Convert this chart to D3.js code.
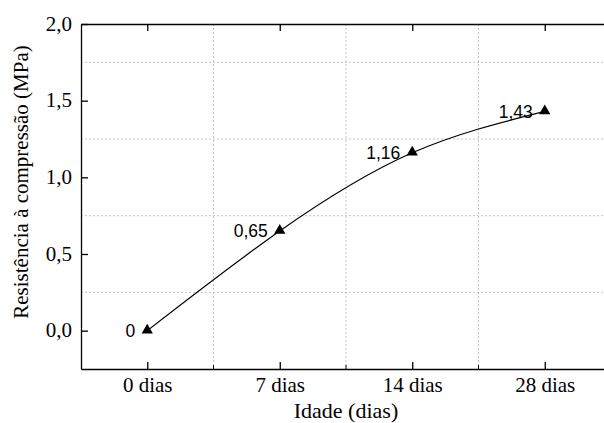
<!DOCTYPE html>
<html>
<head>
<meta charset="utf-8">
<script src="https://cdn.jsdelivr.net/npm/d3@7"></script>
<style>
  body { margin: 0; background: #fff; }
  svg { display: block; }
</style>
</head>
<body>
<div id="chart"></div>
<script>
// data
var categories = ["0 dias", "7 dias", "14 dias", "28 dias"];
var values = [0, 0.65, 1.16, 1.43];
var valueLabels = ["0", "0,65", "1,16", "1,43"];
var yTicks = [0, 0.5, 1.0, 1.5, 2.0];
var yGrid = [0.25, 0.75, 1.25, 1.75];
var xTitle = "Idade (dias)";
var yTitle = "Resistência à compressão (MPa)";

var width = 604, height = 423;
var plotLeft = 81, plotRight = 611, plotTop = 24, plotBottom = 369;
var serif = "'Liberation Serif', 'Times New Roman', serif";
var sans = "'Liberation Sans', Arial, sans-serif";

var svg = d3.select("#chart")
  .append("svg")
    .attr("width", width)
    .attr("height", height);

var x = d3.scalePoint()
  .domain(categories)
  .range([plotLeft, plotRight])
  .padding(0.5);

var y = d3.scaleLinear()
  .domain([-0.25, 2.0])
  .range([plotBottom, plotTop]);

var fmt = function(d) { return d3.format(".1f")(d).replace(".", ","); };

// midpoints between categories for minor ticks / vertical grid
var mids = categories.slice(1).map(function(c) { return x(c) - x.step() / 2; });

// grid lines (dotted)
var grid = svg.append("g").attr("class", "grid");
grid.selectAll("line.h")
  .data(yGrid)
  .enter()
  .append("line")
    .attr("class", "h")
    .attr("x1", plotLeft).attr("x2", plotRight)
    .attr("y1", function(d) { return y(d); })
    .attr("y2", function(d) { return y(d); });
grid.selectAll("line.v")
  .data(mids)
  .enter()
  .append("line")
    .attr("class", "v")
    .attr("y1", plotTop).attr("y2", plotBottom)
    .attr("x1", function(d) { return d; })
    .attr("x2", function(d) { return d; });
grid.selectAll("line")
  .attr("stroke", "#c4c4c4")
  .attr("stroke-width", 1)
  .attr("stroke-dasharray", "2,2");

// axes with inward ticks
var xBottom = d3.axisBottom(x).tickSize(-7).tickPadding(17).tickSizeOuter(0);
var xTop = d3.axisTop(x).tickSize(-7).tickFormat("").tickSizeOuter(0);
var yLeft = d3.axisLeft(y).tickValues(yTicks).tickSize(-7).tickPadding(9).tickFormat(fmt).tickSizeOuter(0);
var yRight = d3.axisRight(y).tickValues(yTicks).tickSize(-7).tickFormat("").tickSizeOuter(0);

var gBottom = svg.append("g").attr("transform", "translate(0," + plotBottom + ")").call(xBottom);
svg.append("g").attr("transform", "translate(0," + plotTop + ")").call(xTop);
var gLeft = svg.append("g").attr("transform", "translate(" + plotLeft + ",0)").call(yLeft);
svg.append("g").attr("transform", "translate(" + plotRight + ",0)").call(yRight);

// minor ticks on the bottom axis
svg.append("g")
  .selectAll("line")
  .data(mids)
  .enter()
  .append("line")
    .attr("x1", function(d) { return d; })
    .attr("x2", function(d) { return d; })
    .attr("y1", plotBottom)
    .attr("y2", plotBottom - 4)
    .attr("stroke", "#000");

svg.selectAll(".domain, .tick line")
  .attr("stroke", "#000")
  .attr("stroke-width", 1.3);

// axis tick text
gBottom.selectAll(".tick text")
  .attr("font-family", serif)
  .attr("font-size", 21)
  .attr("fill", "#000")
  .attr("y", 23)
  .attr("dy", 0);

gLeft.selectAll(".tick text")
  .attr("font-family", serif)
  .attr("font-size", 21)
  .attr("fill", "#000")
  .attr("x", -9)
  .attr("dy", "0.3em");

// curve through the points
var line = d3.line()
  .x(function(d, i) { return x(categories[i]); })
  .y(function(d) { return y(d); })
  .curve(d3.curveNatural);

svg.append("path")
  .datum(values)
  .attr("d", line)
  .attr("fill", "none")
  .attr("stroke", "#000")
  .attr("stroke-width", 1.2);

// triangle markers
svg.append("g")
  .selectAll("path")
  .data(values)
  .enter()
  .append("path")
    .attr("d", d3.symbol(d3.symbolTriangle, 55))
    .attr("transform", function(d, i) {
      return "translate(" + x(categories[i]) + "," + (y(d) - 0.5) + ")";
    })
    .attr("fill", "#000");

// value labels left of each marker
svg.append("g")
  .selectAll("text")
  .data(values)
  .enter()
  .append("text")
    .attr("x", function(d, i) { return x(categories[i]) - 12; })
    .attr("y", function(d) { return y(d); })
    .attr("text-anchor", "end")
    .attr("dy", "0.36em")
    .attr("font-family", sans)
    .attr("font-size", 17.5)
    .attr("fill", "#000")
    .text(function(d, i) { return valueLabels[i]; });

// axis titles
svg.append("text")
  .attr("x", (plotLeft + plotRight) / 2)
  .attr("y", 418)
  .attr("text-anchor", "middle")
  .attr("font-family", serif)
  .attr("font-size", 22)
  .attr("fill", "#000")
  .text(xTitle);

svg.append("text")
  .attr("transform", "translate(28,182) rotate(-90)")
  .attr("text-anchor", "middle")
  .attr("font-family", serif)
  .attr("font-size", 21)
  .attr("fill", "#000")
  .text(yTitle);
</script>
</body>
</html>
